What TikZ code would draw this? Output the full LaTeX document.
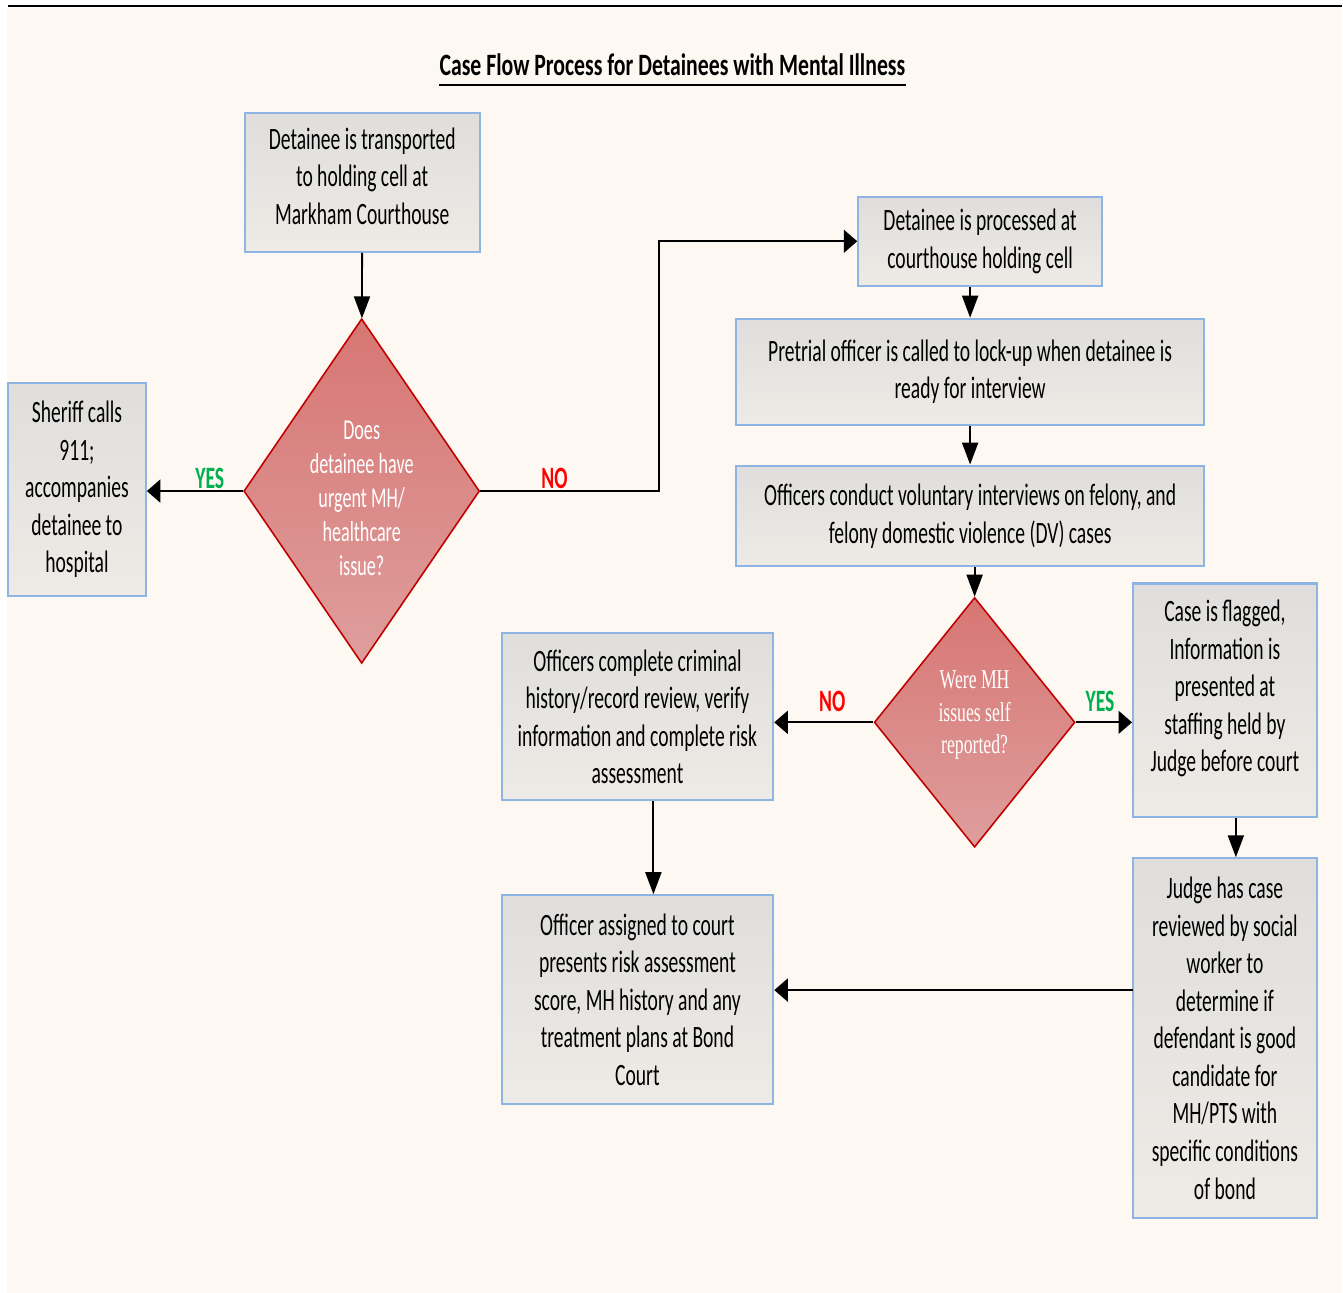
\documentclass[tikz,border=0pt]{standalone}
\usepackage{fontspec}
\setmainfont{Carlito}[FakeStretch=0.63]
\newfontfamily\titlefont{Carlito}[FakeStretch=0.70]
\newfontfamily\qfont{Liberation Serif}[FakeStretch=0.65]
\usepackage{tikz}
\usetikzlibrary{shapes.geometric,arrows.meta}

\definecolor{cream}{HTML}{FDF8F1}
\definecolor{boxblue}{HTML}{8EB4E3}
\definecolor{boxtop}{HTML}{DFDEDC}
\definecolor{boxbot}{HTML}{EEEBE6}
\definecolor{decred}{HTML}{C00000}
\definecolor{dectop}{HTML}{D77673}
\definecolor{decbot}{HTML}{DE9E9D}
\definecolor{yesgreen}{HTML}{00B050}
\definecolor{nored}{HTML}{FF0000}

\tikzset{
  procbox/.style={draw=boxblue, line width=1.15pt, top color=boxtop, bottom color=boxbot,
    align=center, inner sep=2pt, font=\fontsize{17.7}{21.4}\selectfont},
  decision/.style={diamond, draw=decred, line width=0.9pt, top color=dectop, bottom color=decbot,
    inner sep=0pt, text=white, align=center},
  hconn/.style={line width=1.1pt, -{Triangle[length=0.27cm,width=0.46cm]}},
  vconn/.style={line width=1.1pt, -{Triangle[length=0.44cm,width=0.32cm]}},
  yeslbl/.style={text=yesgreen, font=\bfseries\fontsize{17.7}{21.4}\selectfont},
  nolbl/.style={text=nored, font=\bfseries\fontsize{17.7}{21.4}\selectfont}
}

\begin{document}
\begin{tikzpicture}[x=0.02cm,y=-0.02cm]
% page
\fill[white] (0,0) rectangle (1343,1294);
\fill[cream] (7,8) rectangle (1343,1294);
\draw[line width=1.4pt] (8,6) -- (1343,6);
\useasboundingbox (0,0) rectangle (1343,1294);

% title
\node[inner sep=0pt, font=\titlefont\bfseries\fontsize{17.7}{21.4}\selectfont] (title) at (673,65)
  {Case Flow Process for Detainees with Mental Illness};
\draw[line width=1.3pt] ([yshift=-0.18cm]title.base west) -- ([yshift=-0.18cm]title.base east);

% boxes
\node[procbox, minimum width=4.70cm, minimum height=2.78cm] (arrive) at (362.5,182.5)
  {Detainee is transported\\to holding cell at\\Markham Courthouse\\[-14pt]};
\node[procbox, minimum width=2.76cm, minimum height=4.28cm] (sheriff) at (77,490)
  {Sheriff calls\\911;\\accompanies\\detainee to\\hospital};
\node[procbox, minimum width=4.88cm, minimum height=1.78cm] (process) at (981,241.5)
  {Detainee is processed at\\courthouse holding cell};
\node[procbox, minimum width=9.36cm, minimum height=2.12cm] (pretrial) at (971,372)
  {Pretrial officer is called to lock-up when detainee is\\ready for interview};
\node[procbox, minimum width=9.36cm, minimum height=2.02cm] (interview) at (971,516.5)
  {Officers conduct voluntary interviews on felony, and\\felony domestic violence (DV) cases};
\node[procbox, minimum width=5.44cm, minimum height=3.34cm] (review) at (638,717.5)
  {Officers complete criminal\\history/record review, verify\\information and complete risk\\assessment};
\node[procbox, minimum width=3.68cm, minimum height=4.68cm] (flagged) at (1226,701)
  {Case is flagged,\\Information is\\presented at\\staffing held by\\Judge before court\\[-5pt]};
\node[procbox, minimum width=3.68cm, minimum height=7.20cm] (judge) at (1226,1039)
  {Judge has case\\reviewed by social\\worker to\\determine if\\defendant is good\\candidate for\\MH/PTS with\\specific conditions\\of bond};
\node[procbox, minimum width=5.44cm, minimum height=4.18cm] (bond) at (638,1000.5)
  {Officer assigned to court\\presents risk assessment\\score, MH history and any\\treatment plans at Bond\\Court};

% decisions
\node[decision, aspect=0.684, minimum width=4.72cm, minimum height=6.90cm,
  font=\fontsize{16.4}{19.3}\selectfont] (urgent) at (362,491.5)
  {\rule{0pt}{19pt}Does\\detainee have\\urgent MH/\\healthcare\\issue?};
\node[decision, aspect=0.804, minimum width=4.02cm, minimum height=5.00cm,
  font=\qfont\fontsize{15.5}{18.6}\selectfont] (selfrep) at (975.5,723)
  {Were MH\\issues self\\reported?\\[-7pt]};
\coordinate (jback) at (1134,991);

% connectors
\draw[vconn] (arrive) -- (urgent);
\draw[hconn] (urgent.west) -- (urgent.west -| sheriff.east);
\draw[hconn] (urgent.east) -- ++(179,0) |- (process.west);
\draw[vconn] (pretrial.north |- process.south) -- (pretrial.north);
\draw[vconn] (pretrial) -- (interview);
\draw[vconn] (selfrep.north |- interview.south) -- (selfrep.north);
\draw[hconn] (selfrep.west) -- (selfrep.west -| review.east);
\draw[hconn] (selfrep.east) -- (selfrep.east -| flagged.west);
\draw[vconn] ([xshift=0.22cm]flagged.south) -- ([xshift=0.22cm]judge.north);
\draw[vconn] ([xshift=0.32cm]review.south) -- ([xshift=0.32cm]bond.north);
\draw[hconn] (jback) -- (jback -| bond.east);

% answers
\node[yeslbl] (yes1) at (210,479) {YES};
\node[nolbl] (no1) at (555,479) {NO};
\node[nolbl] (no2) at (833,702) {NO};
\node[yeslbl] (yes2) at (1101,702) {YES};
\end{tikzpicture}
\end{document}
